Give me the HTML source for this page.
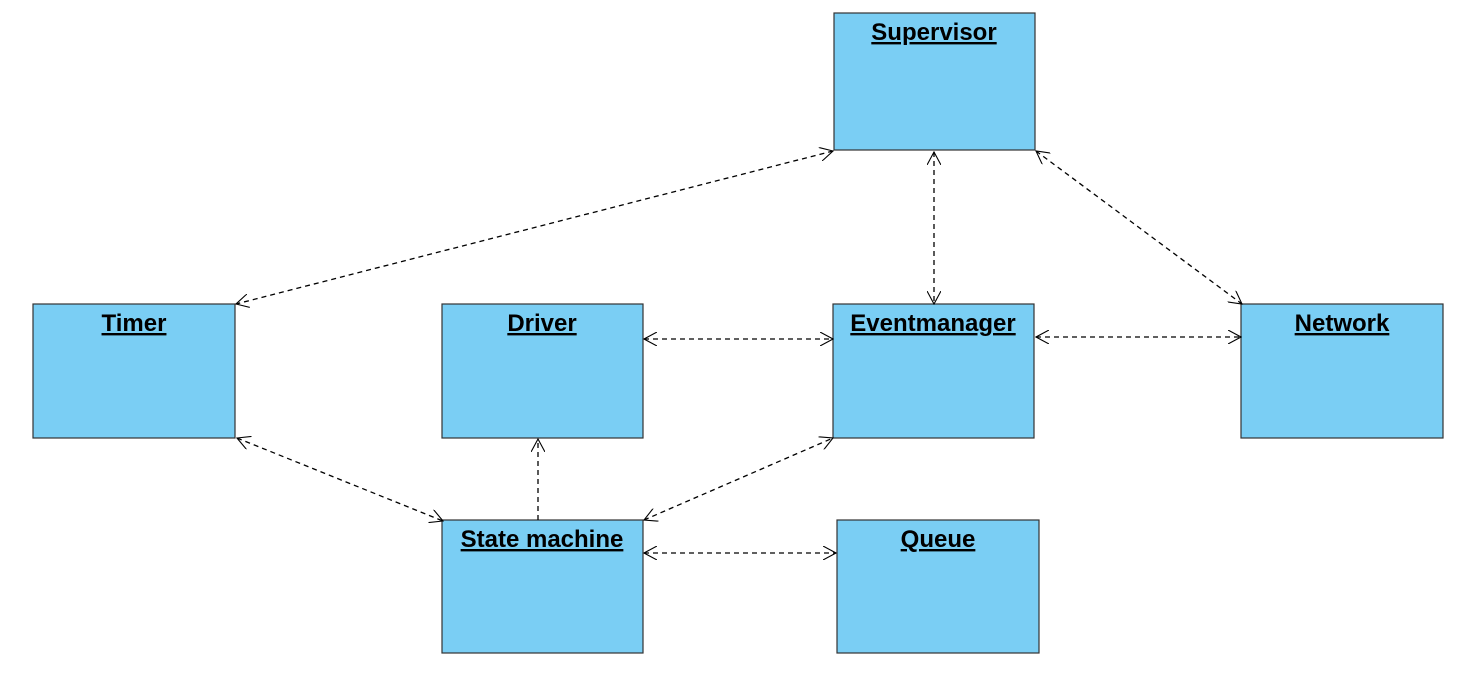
<!DOCTYPE html>
<html><head><meta charset="utf-8"><style>
html,body{margin:0;padding:0;background:#fff;}
svg{display:block;}
text{font-family:"Liberation Sans",sans-serif;font-weight:bold;font-size:24px;text-decoration:underline;fill:#000;}
</style></head><body>
<svg width="1482" height="680" viewBox="0 0 1482 680" xmlns="http://www.w3.org/2000/svg">
<defs>
<marker id="a" viewBox="0 0 14 14" refX="13" refY="7" markerWidth="14" markerHeight="14" markerUnits="userSpaceOnUse" orient="auto-start-reverse">
<path d="M0,0 L13,7 L0,14" fill="none" stroke="#000" stroke-width="1.1"/>
</marker>
</defs>
<g fill="#7ACEF4" stroke="#333" stroke-width="1.2">
<rect x="834" y="13" width="201" height="137"/>
<rect x="33" y="304" width="202" height="134"/>
<rect x="442" y="304" width="201" height="134"/>
<rect x="833" y="304" width="201" height="134"/>
<rect x="1241" y="304" width="202" height="134"/>
<rect x="442" y="520" width="201" height="133"/>
<rect x="837" y="520" width="202" height="133"/>
</g>
<g text-anchor="middle">
<text x="934" y="40">Supervisor</text>
<text x="134" y="331">Timer</text>
<text x="542" y="331">Driver</text>
<text x="933" y="331">Eventmanager</text>
<text x="1342" y="331">Network</text>
<text x="542" y="547">State machine</text>
<text x="938" y="547">Queue</text>
</g>
<g stroke="#000" stroke-width="1.3" stroke-dasharray="5,4" fill="none">
<line x1="833" y1="151" x2="236" y2="304" marker-start="url(#a)" marker-end="url(#a)"/>
<line x1="934" y1="152" x2="934" y2="304" marker-start="url(#a)" marker-end="url(#a)"/>
<line x1="1036" y1="151" x2="1242" y2="304" marker-start="url(#a)" marker-end="url(#a)"/>
<line x1="644" y1="339" x2="833" y2="339" marker-start="url(#a)" marker-end="url(#a)"/>
<line x1="1036" y1="337" x2="1241" y2="337" marker-start="url(#a)" marker-end="url(#a)"/>
<line x1="237" y1="438" x2="443" y2="521" marker-start="url(#a)" marker-end="url(#a)"/>
<line x1="538" y1="520" x2="538" y2="439" marker-end="url(#a)"/>
<line x1="644" y1="520" x2="833" y2="438" marker-start="url(#a)" marker-end="url(#a)"/>
<line x1="644" y1="553" x2="836" y2="553" marker-start="url(#a)" marker-end="url(#a)"/>
</g>
</svg>
</body></html>
